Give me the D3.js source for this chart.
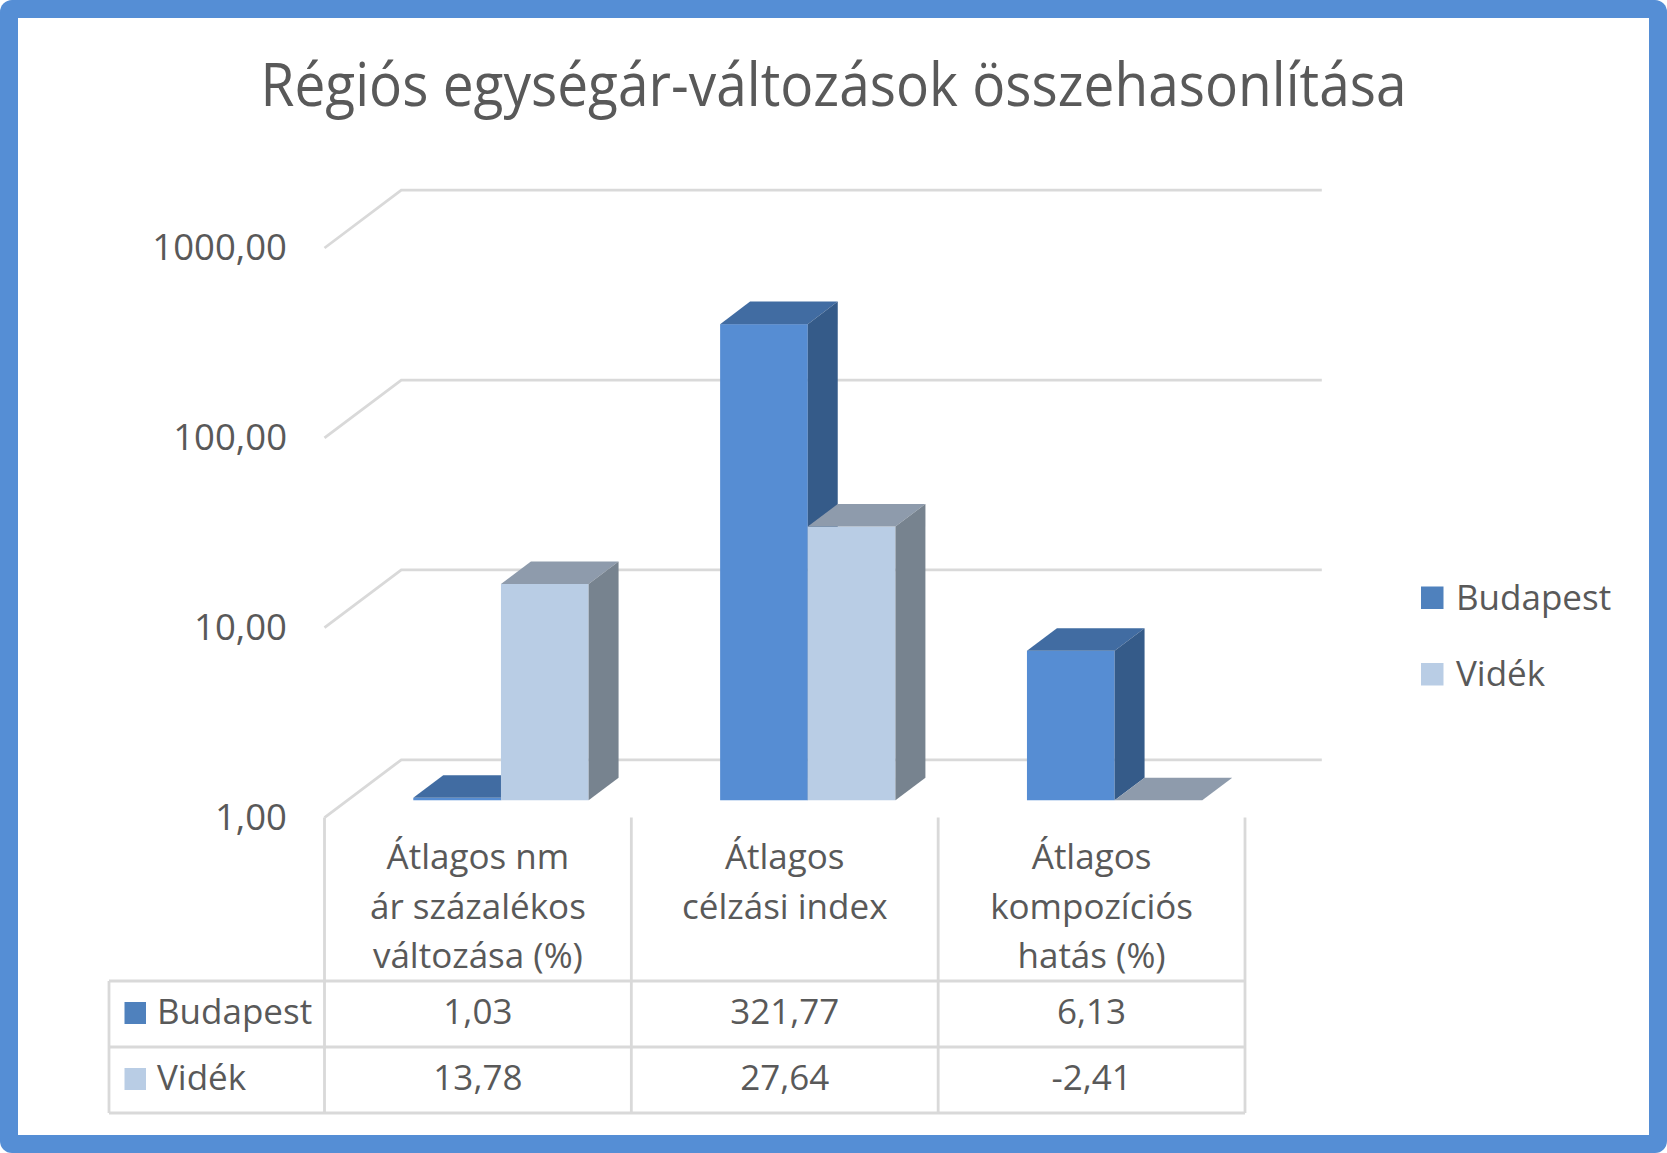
<!DOCTYPE html>
<html>
<head>
<meta charset="utf-8">
<script src="https://cdn.jsdelivr.net/npm/d3@7"></script>
<style>
  body { margin: 0; background: #fff; }
  text { font-family: "Open Sans", "Noto Sans", sans-serif; fill: #595959; }
</style>
</head>
<body>
<div id="chart"></div>
<script>
// data
const categories = [
  ['Átlagos nm', 'ár százalékos', 'változása (%)'],
  ['Átlagos', 'célzási index'],
  ['Átlagos', 'kompozíciós', 'hatás (%)']
];
const seriesNames = ['Budapest', 'Vidék'];
const budapest = [1.03, 321.77, 6.13];
const videk = [13.78, 27.64, -2.41];
const yTicks = [1, 10, 100, 1000];
const title = 'Régiós egységár-változások összehasonlítása';

const width = 1667;
const height = 1153;

const colors = {
  Budapest: { front: '#568dd3', top: '#416ca2', side: '#355b89', key: '#4f81bd' },
  'Vidék': { front: '#b9cde5', top: '#8e9bac', side: '#77838f', key: '#b9cde5' }
};

const locale = d3.formatLocale({ decimal: ',', thousands: '', grouping: [3], currency: ['', ''], minus: '-' });
const fmt = locale.format('.2f');

const svg = d3.select('#chart')
  .append('svg')
  .attr('width', width)
  .attr('height', height);

// frame
svg.append('rect')
  .attr('width', width).attr('height', height)
  .attr('rx', 12)
  .attr('fill', '#558ed5');
svg.append('rect')
  .attr('x', 18).attr('y', 18)
  .attr('width', width - 36).attr('height', height - 36)
  .attr('fill', '#fff');

svg.append('text')
  .attr('x', width / 2)
  .attr('y', 106)
  .attr('text-anchor', 'middle')
  .attr('font-size', 61)
  .attr('textLength', 1146)
  .attr('lengthAdjust', 'spacingAndGlyphs')
  .text(title);

// front plane scales + 3d depth
const x = d3.scaleBand().domain(d3.range(categories.length)).range([324.5, 1245]);
const sub = d3.scaleBand().domain(seriesNames).range([0, x.bandwidth()]).paddingInner(0).paddingOuter(0.75);
const y = d3.scaleLog().domain([1, 1000]).range([817.6, 248]);
const depth = { dx: 76.8, dy: -57.8 };
const frontGap = 0.3;
const barDepth = 0.39;

// gridlines (side wall + back wall)
const grid = svg.append('g')
  .attr('fill', 'none')
  .attr('stroke', '#d9d9d9')
  .attr('stroke-width', 2.8);
grid.selectAll('path')
  .data(yTicks)
  .enter()
  .append('path')
  .attr('d', (t) => {
    const x0 = x.range()[0];
    const x1 = x.range()[1];
    return `M${x0},${y(t)} L${x0 + depth.dx},${y(t) + depth.dy} L${x1 + depth.dx},${y(t) + depth.dy}`;
  });

// y axis labels
const yAxis = d3.axisLeft(y)
  .tickValues(yTicks)
  .tickFormat(fmt)
  .tickSize(0)
  .tickPadding(0);
const yg = svg.append('g')
  .attr('transform', 'translate(287,0)')
  .call(yAxis);
yg.select('.domain').remove();
yg.selectAll('text')
  .attr('font-size', 36.5)
  .attr('font-family', '"Open Sans", sans-serif')
  .attr('fill', '#595959');

// bars
const bars = [];
categories.forEach((c, i) => {
  bars.push({ i, s: 'Budapest', v: budapest[i] });
  bars.push({ i, s: 'Vidék', v: videk[i] });
});

const ox = frontGap * depth.dx;
const oy = frontGap * depth.dy;
const ddx = barDepth * depth.dx;
const ddy = barDepth * depth.dy;
const bw = sub.bandwidth();

const barG = svg.append('g');
bars.forEach((d) => {
  const v = Math.max(d.v, 1);
  const x0 = x(d.i) + sub(d.s) + ox;
  const x1 = x0 + bw;
  const yb = y(1) + oy;
  const yt = y(v) + oy;
  const c = colors[d.s];
  const g = barG.append('g');
  g.append('rect')
    .attr('x', x0).attr('y', yt)
    .attr('width', bw).attr('height', yb - yt)
    .attr('fill', c.front);
  g.append('path')
    .attr('d', `M${x0},${yt} L${x1},${yt} L${x1 + ddx},${yt + ddy} L${x0 + ddx},${yt + ddy} Z`)
    .attr('fill', c.top);
  g.append('path')
    .attr('d', `M${x1},${yt} L${x1 + ddx},${yt + ddy} L${x1 + ddx},${yb + ddy} L${x1},${yb} Z`)
    .attr('fill', c.side);
});

// data table
const rowTop = 981;
const rowH = 66;
const tableLeft = 109;
const tableRight = x.range()[1];
const tbl = svg.append('g')
  .attr('stroke', '#d9d9d9')
  .attr('stroke-width', 2.8)
  .attr('fill', 'none');

[0, 1, 2].forEach((r) => {
  tbl.append('line')
    .attr('x1', tableLeft).attr('x2', tableRight)
    .attr('y1', rowTop + r * rowH).attr('y2', rowTop + r * rowH);
});
tbl.append('line')
  .attr('x1', tableLeft).attr('x2', tableLeft)
  .attr('y1', rowTop).attr('y2', rowTop + 2 * rowH);
d3.range(categories.length + 1).forEach((k) => {
  const xx = k < categories.length ? x(k) : x.range()[1];
  tbl.append('line')
    .attr('x1', xx).attr('x2', xx)
    .attr('y1', y(1)).attr('y2', rowTop + 2 * rowH);
});

// category headers
categories.forEach((lines, i) => {
  const t = svg.append('text')
    .attr('text-anchor', 'middle')
    .attr('font-size', 35);
  lines.forEach((ln, j) => {
    t.append('tspan')
      .attr('x', x(i) + x.bandwidth() / 2)
      .attr('y', 869 + j * 49.5)
      .text(ln);
  });
});

// row labels + values
const rows = [
  { name: 'Budapest', values: budapest },
  { name: 'Vidék', values: videk }
];
rows.forEach((r, k) => {
  const base = rowTop + k * rowH + 43;
  svg.append('rect')
    .attr('x', 124.5).attr('y', base - 22)
    .attr('width', 21.5).attr('height', 22)
    .attr('fill', colors[r.name].key);
  svg.append('text')
    .attr('x', 157)
    .attr('y', base)
    .attr('font-size', 35)
    .text(r.name);
  r.values.forEach((v, i) => {
    svg.append('text')
      .attr('x', x(i) + x.bandwidth() / 2)
      .attr('y', base)
      .attr('text-anchor', 'middle')
      .attr('font-size', 35)
      .text(fmt(v));
  });
});

// legend
const legend = svg.append('g')
  .selectAll('g')
  .data(seriesNames)
  .enter()
  .append('g')
  .attr('transform', (d, i) => `translate(1421,${609.5 + i * 76.5})`);
legend.append('rect')
  .attr('x', 0).attr('y', -23)
  .attr('width', 22.5).attr('height', 22.5)
  .attr('fill', (d) => colors[d].key);
legend.append('text')
  .attr('x', 35)
  .attr('y', 0)
  .attr('font-size', 35)
  .text((d) => d);
</script>
</body>
</html>
